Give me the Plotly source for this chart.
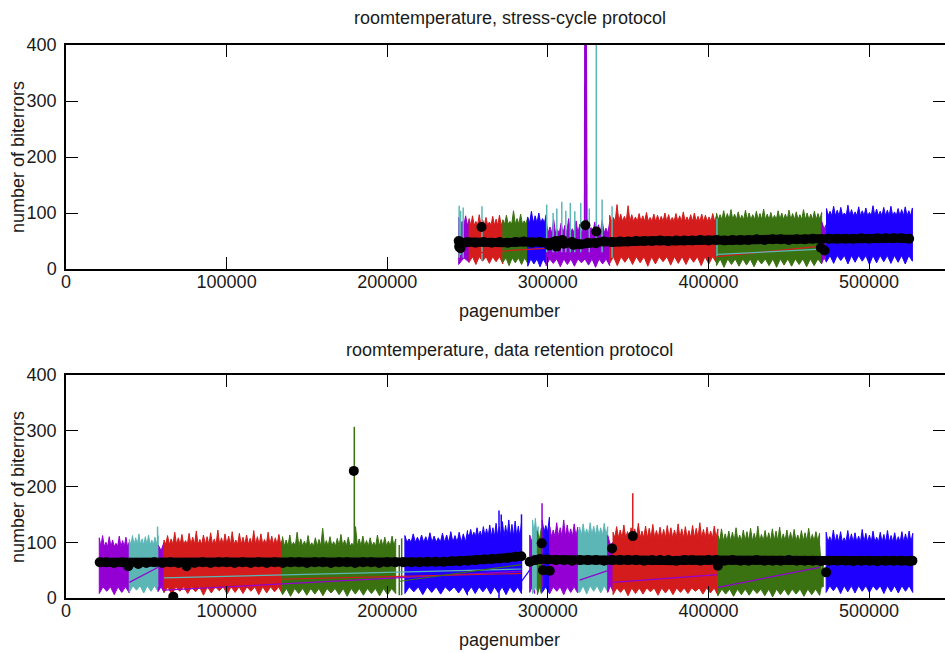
import plotly.graph_objects as go

# ---------------- data: stress-cycle protocol (top) ----------------
# colored blocks: upper spike tips (hi), lower spike tips (lo), solid upper / lower level of the block
sc_purple1_hi = [92, 85, 95, 88]
sc_purple1_lo = [8, 12]
sc_red1_hi = [90, 95, 85, 97, 88, 92, 84, 94, 89, 96, 86]
sc_red1_lo = [12, 8, 14, 10, 13, 9]
sc_green1_hi = [88, 96, 85, 104, 90, 98, 86, 93]
sc_green1_lo = [12, 6, 11, 8, 10]
sc_blue1_hi = [92, 103, 95, 100, 90, 97]
sc_blue1_lo = [5, 9, 4, 8]
sc_purple2_hi = [85, 75, 88, 70, 82, 78, 90, 72, 86, 80, 76, 88, 74, 84, 79, 87, 73, 83]
sc_purple2_lo = [6, 10, 4, 8, 5, 11, 7, 3, 9, 6]
sc_red2_hi = [96, 92, 115, 98, 94, 113, 97, 93, 99, 95, 101, 92, 98, 96, 94, 100, 97, 92,
              99, 95, 102, 93, 97, 100, 94, 98, 96, 93, 99, 95]
sc_red2_lo = [10, 6, 12, 8, 11, 5, 9, 13, 7, 10, 8, 12, 6, 9, 11]
sc_green2_hi = [100, 97, 104, 99, 106, 98, 102, 96, 105, 100, 97, 103, 99, 107, 98, 101, 96,
                104, 100, 98, 105, 99, 102, 97, 106, 100, 98, 103, 99, 101]
sc_green2_lo = [6, 3, 8, 5, 7, 4, 9, 6, 3, 7, 5, 8, 4, 6, 9]
sc_purple3_hi = [85, 80]
sc_purple3_lo = [10, 12]
sc_blue2_hi = [108, 103, 112, 105, 110, 100, 114, 106, 102, 111, 104, 109, 101, 113, 107, 103,
               110, 105, 112, 102, 108, 106, 111, 104, 109]
sc_blue2_lo = [13, 10, 15, 9, 12, 14, 8, 11, 13, 10, 12, 9, 14]

# (color, first page, last page, hi tips, lo tips, solid top, solid bottom)
sc_blocks = [
    ("purple", 244500, 251000, sc_purple1_hi, sc_purple1_lo, 78, 20),
    ("red", 251000, 272000, sc_red1_hi, sc_red1_lo, 78, 22),
    ("green", 272000, 287500, sc_green1_hi, sc_green1_lo, 80, 20),
    ("blue", 287500, 299000, sc_blue1_hi, sc_blue1_lo, 82, 18),
    ("purple", 299000, 338500, sc_purple2_hi, sc_purple2_lo, 64, 18),
    ("red", 338500, 405000, sc_red2_hi, sc_red2_lo, 85, 22),
    ("green", 405000, 470500, sc_green2_hi, sc_green2_lo, 88, 18),
    ("purple", 470500, 473500, sc_purple3_hi, sc_purple3_lo, 72, 20),
    ("blue", 473500, 527000, sc_blue2_hi, sc_blue2_lo, 95, 24),
]

# single spikes: page, top value, base value
sc_spike_teal_page = [244800, 245700, 247300, 259000, 299300, 303300, 305600, 308700, 311200,
                      314000, 316800, 320500, 325800, 330200, 333800, 340000, 405300]
sc_spike_teal_top = [113, 104, 110, 112, 115, 100, 108, 120, 104, 118, 103, 118, 108, 720, 124, 112, 90]
sc_spike_teal_base = [20, 25, 20, 15, 30, 30, 30, 30, 30, 30, 30, 30, 30, 40, 30, 20, 22]
sc_spike_purple_page = [323400]
sc_spike_purple_top = [720]
sc_spike_purple_base = [40]

# thin connecting lines
sc_link_color = ["red", "red", "teal"]
sc_link_page0 = [251000, 405000, 405500]
sc_link_val0 = [28, 22, 26]
sc_link_page1 = [298000, 467000, 467000]
sc_link_val1 = [37, 40, 35]

# black mean points
sc_mean_page = [244500, 247000, 250000, 255000, 260000, 265000, 270000, 275000, 280000, 285000,
                290000, 295000, 300000, 305000, 310000, 315000, 320000, 325000, 330000, 335000,
                340000, 345000, 350000, 355000, 360000, 365000, 370000, 375000, 380000, 385000,
                390000, 395000, 400000, 405000, 410000, 415000, 420000, 425000, 430000, 435000,
                440000, 445000, 450000, 455000, 460000, 465000, 470000, 475000, 480000, 485000,
                490000, 495000, 500000, 505000, 510000, 515000, 520000, 525000]
sc_mean_val = [50, 47, 48, 47, 48, 47, 48, 47, 48, 49, 47, 48, 46, 50, 45, 48, 44, 47, 46, 49,
               48, 49, 49, 50, 50, 50, 51, 50, 51, 51, 51, 52, 51, 52, 51, 52, 52, 52, 53, 52,
               53, 53, 52, 53, 53, 54, 53, 54, 54, 54, 54, 55, 54, 55, 55, 55, 55, 54]
sc_extra_page = [244800, 245600, 246500, 258700, 301000, 305500, 309000, 316000, 323400, 330200, 470000, 472300]
sc_extra_val = [40, 37, 44, 75, 42, 40, 52, 43, 78, 67, 38, 33]

# ---------------- data: data retention protocol (bottom) ----------------
dr_purple1_hi = [108, 112, 100, 110, 104, 98, 111, 103, 109, 100]
dr_purple1_lo = [8, 12, 6, 10, 9]
dr_teal1_hi = [105, 112, 108, 115, 106, 110, 113, 104, 109, 112]
dr_teal1_lo = [10, 14, 9, 12, 11]
dr_purple2_hi = [95, 100]
dr_purple2_lo = [12, 10]
dr_red1_hi = [104, 112, 106, 118, 108, 114, 103, 116, 109, 120, 105, 113, 110, 117, 106, 122, 108,
              115, 111, 119, 104, 116, 109, 113, 107, 121, 110, 115, 105, 118, 111, 108, 114, 106]
dr_red1_lo = [10, 6, 12, 8, 11, 5, 9, 13, 7, 10, 8, 12, 6, 9, 11, 7]
dr_green1_hi = [110, 104, 113, 100, 118, 106, 102, 112, 99, 108, 105, 125, 103, 110, 101, 107, 114,
                104, 109, 98, 128, 106, 111, 103, 108, 100, 113, 105, 109, 102, 111, 106]
dr_green1_lo = [6, 3, 8, 5, 7, 4, 9, 6, 3, 7, 5, 8, 4, 6, 8]
dr_blue1a_hi = [112, 106, 115, 109, 113, 110, 117, 111, 108, 116, 113, 119, 112, 118, 115, 121]
dr_blue1a_lo = [8, 11, 6, 10, 7, 12, 9, 5]
dr_blue1b_hi = [116, 123, 118, 126, 120, 128, 124, 131, 126, 134, 128, 137, 130, 140, 132, 138, 129, 135]
dr_blue1b_lo = [10, 8, 11, 7, 9, 6, 10, 8]
dr_purple3_hi = [113, 105]
dr_purple3_lo = [10, 8]
dr_teal2_hi = [140, 143, 128]
dr_teal2_lo = [8, 10]
dr_green2_hi = [120, 125]
dr_green2_lo = [6, 8]
dr_blue2_hi = [140, 130, 145]
dr_blue2_lo = [10, 8]
dr_purple4_hi = [128, 122, 135, 126, 140, 131, 124, 133, 127]
dr_purple4_lo = [8, 12, 6, 10, 9]
dr_teal3_hi = [127, 133, 124, 135, 129, 131, 126, 134, 128]
dr_teal3_lo = [10, 7, 12, 9, 11]
dr_purple5_hi = [112, 100]
dr_purple5_lo = [10, 12]
dr_red2_hi = [118, 128, 122, 131, 119, 126, 124, 134, 120, 129, 125, 132, 121, 127, 123, 130, 126,
              122, 133, 124, 128, 121, 130, 125, 135, 123, 127, 120, 129, 124]
dr_red2_lo = [6, 10, 4, 8, 7, 11, 5, 9, 6, 10, 8, 12, 7, 9, 5]
dr_green2b_hi = [112, 124, 115, 120, 118, 126, 113, 122, 119, 125, 116, 129, 114, 121, 117, 124,
                 120, 127, 115, 122, 118, 123, 113, 121, 117, 125, 114, 119, 116]
dr_green2b_lo = [4, 7, 3, 6, 5, 8, 4, 2, 6, 5, 7, 3, 6, 5]
dr_green3_hi = [95, 60]
dr_green3_lo = [5, 20]
dr_blue3_hi = [118, 110, 122, 114, 119, 108, 121, 115, 117, 111, 123, 116, 113, 120, 109, 118, 114,
               121, 112, 117, 110, 119, 115, 120, 116]
dr_blue3_lo = [10, 13, 8, 11, 9, 12, 10, 14, 8, 11, 9, 12, 10]

dr_blocks = [
    ("purple", 20700, 39400, dr_purple1_hi, dr_purple1_lo, 92, 20),
    ("teal", 39400, 57400, dr_teal1_hi, dr_teal1_lo, 95, 22),
    ("purple", 57400, 61000, dr_purple2_hi, dr_purple2_lo, 85, 20),
    ("red", 61000, 134800, dr_red1_hi, dr_red1_lo, 96, 20),
    ("green", 134800, 205300, dr_green1_hi, dr_green1_lo, 93, 17),
    ("blue", 211000, 250000, dr_blue1a_hi, dr_blue1a_lo, 100, 20),
    ("blue", 250000, 283600, dr_blue1b_hi, dr_blue1b_lo, 110, 20),
    ("purple", 288700, 291800, dr_purple3_hi, dr_purple3_lo, 100, 20),
    ("teal", 290500, 294000, dr_teal2_hi, dr_teal2_lo, 115, 20),
    ("green", 293500, 296000, dr_green2_hi, dr_green2_lo, 105, 20),
    ("blue", 296500, 301000, dr_blue2_hi, dr_blue2_lo, 118, 20),
    ("purple", 301200, 318600, dr_purple4_hi, dr_purple4_lo, 110, 20),
    ("teal", 319800, 337300, dr_teal3_hi, dr_teal3_lo, 112, 22),
    ("purple", 337300, 340600, dr_purple5_hi, dr_purple5_lo, 95, 22),
    ("red", 340600, 405900, dr_red2_hi, dr_red2_lo, 108, 18),
    ("green", 405900, 469200, dr_green2b_hi, dr_green2b_lo, 102, 16),
    ("green", 469200, 471500, dr_green3_hi, dr_green3_lo, 50, 20),
    ("blue", 473300, 527200, dr_blue3_hi, dr_blue3_lo, 100, 22),
]

dr_spike_color = ["green", "green", "green", "blue", "blue", "blue", "purple", "teal", "teal", "red"]
dr_spike_page = [179500, 207500, 209000, 269600, 271000, 283600, 296400, 57000, 319200, 352900]
dr_spike_top = [307, 95, 107, 157, 150, 150, 170, 128, 122, 188]
dr_spike_base = [60, 5, 5, 0, 20, 15, 20, 20, 10, 60]

dr_link_color = ["purple", "purple", "teal", "red", "green", "blue", "purple", "purple", "purple"]
dr_link_page0 = [39400, 61000, 61000, 134800, 208000, 283600, 319800, 340600, 405900]
dr_link_val0 = [28, 14, 36, 34, 30, 30, 32, 28, 19]
dr_link_page1 = [57400, 283600, 283600, 283600, 283600, 288700, 337300, 405900, 469200]
dr_link_val1 = [55, 48, 52, 44, 60, 50, 49, 42, 55]

dr_mean_a_page = [21000, 25000, 30000, 35000, 40000, 45000, 50000, 55000, 60000, 65000, 70000,
                  75000, 80000, 85000, 90000, 95000, 100000, 105000, 110000, 115000, 120000, 125000,
                  130000, 135000, 140000, 145000, 150000, 155000, 160000, 165000, 170000, 175000,
                  180000, 185000, 190000, 195000, 200000, 205000, 210000, 215000, 220000, 225000,
                  230000, 235000, 240000, 245000, 250000, 255000, 260000, 265000, 270000, 275000,
                  280000, 283500]
dr_mean_a_val = [64, 64, 63, 64, 63, 61, 63, 64, 63, 64, 63, 62, 63, 64, 63, 64, 64, 63, 64, 63,
                 64, 63, 64, 63, 64, 64, 63, 64, 64, 63, 64, 64, 63, 64, 64, 63, 64, 64, 64, 64,
                 64, 65, 65, 65, 66, 66, 67, 68, 69, 70, 71, 72, 74, 75]
dr_mean_b_page = [288700, 292000, 295000, 300000, 305000, 310000, 315000, 320000, 325000, 330000,
                  335000, 340000, 345000, 350000, 355000, 360000, 365000, 370000, 375000, 380000,
                  385000, 390000, 395000, 400000, 405000, 410000, 415000, 420000, 425000, 430000,
                  435000, 440000, 445000, 450000, 455000, 460000, 465000, 470000, 475000, 480000,
                  485000, 490000, 495000, 500000, 505000, 510000, 515000, 520000, 525000, 527000]
dr_mean_b_val = [65, 68, 70, 69, 68, 68, 67, 68, 68, 68, 67, 68, 68, 68, 68, 67, 68, 68, 68, 67,
                 68, 68, 67, 68, 68, 67, 68, 67, 67, 68, 67, 67, 67, 68, 67, 67, 67, 66, 67, 67,
                 67, 66, 67, 67, 66, 67, 67, 67, 66, 67]
dr_extra_page = [38800, 66800, 75100, 179200, 296200, 297000, 301200, 340000, 352900, 405900, 473300]
dr_extra_val = [57, 2.4, 57, 228, 98, 50, 49, 89, 111, 58, 46]

x_ticks = [0, 100000, 200000, 300000, 400000, 500000]
y_ticks = [0, 100, 200, 300, 400]
titles = ["roomtemperature, stress-cycle protocol", "roomtemperature, data retention protocol"]
x_label = "pagenumber"
y_label = "number of biterrors"

# ---------------- styles ----------------
COLORS = {"purple": "#9400D3", "teal": "#5DB6B6", "red": "#D41C1C",
          "green": "#3A7212", "blue": "#1E00FF"}
FONT = "Liberation Sans"
TXT = "#1a1a1a"

fig = go.Figure()


def spread(a, b, n):
    if n == 1:
        return [a]
    return [a + (b - a) * i / (n - 1) for i in range(n)]


def comb(tips, solid):
    # spike tips separated by the block's solid level
    out = []
    for i, t in enumerate(tips):
        if i:
            out.append(solid)
        out.append(t)
    return out


def add_blocks(blocks, xa, ya):
    for color, p0, p1, hi, lo, top, bot in blocks:
        yt = comb(hi, top)
        yb = comb(lo, bot)
        xt = spread(p0, p1, len(yt))
        xb = spread(p0, p1, len(yb))
        fig.add_trace(go.Scatter(
            x=xt + xb[::-1] + [xt[0]], y=yt + yb[::-1] + [yt[0]], mode="lines",
            fill="toself", fillcolor=COLORS[color],
            line=dict(color=COLORS[color], width=1), xaxis=xa, yaxis=ya,
            hoverinfo="skip", showlegend=False))


def add_segments(colors, p0s, v0s, p1s, v1s, xa, ya, width):
    for c, p0, v0, p1, v1 in zip(colors, p0s, v0s, p1s, v1s):
        fig.add_trace(go.Scatter(x=[p0, p1], y=[v0, v1], mode="lines",
                                 line=dict(color=COLORS[c], width=width),
                                 xaxis=xa, yaxis=ya, hoverinfo="skip", showlegend=False))


def add_mean(pages, vals, xa, ya):
    fig.add_trace(go.Scatter(x=pages, y=vals, mode="lines+markers",
                             line=dict(color="black", width=9),
                             marker=dict(color="black", size=10),
                             xaxis=xa, yaxis=ya, hoverinfo="skip", showlegend=False))


def add_dots(pages, vals, xa, ya):
    fig.add_trace(go.Scatter(x=pages, y=vals, mode="markers",
                             marker=dict(color="black", size=10),
                             xaxis=xa, yaxis=ya, hoverinfo="skip", showlegend=False))


# top panel
add_blocks(sc_blocks, "x", "y")
add_segments(["teal"] * len(sc_spike_teal_page), sc_spike_teal_page, sc_spike_teal_base,
             sc_spike_teal_page, sc_spike_teal_top, "x", "y", 1.5)
add_segments(["purple"], [323000], sc_spike_purple_base, sc_spike_purple_page, sc_spike_purple_top, "x", "y", 2)
add_segments(["purple"], sc_spike_purple_page, sc_spike_purple_top, [324200], sc_spike_purple_base, "x", "y", 2)
add_segments(sc_link_color, sc_link_page0, sc_link_val0, sc_link_page1, sc_link_val1, "x", "y", 1.2)
add_mean(sc_mean_page, sc_mean_val, "x", "y")
add_dots(sc_extra_page, sc_extra_val, "x", "y")

# bottom panel
add_blocks(dr_blocks, "x2", "y2")
add_segments(dr_spike_color, dr_spike_page, dr_spike_base, dr_spike_page, dr_spike_top, "x2", "y2", 1.5)
add_segments(dr_link_color, dr_link_page0, dr_link_val0, dr_link_page1, dr_link_val1, "x2", "y2", 1.2)
add_mean(dr_mean_a_page, dr_mean_a_val, "x2", "y2")
add_mean(dr_mean_b_page, dr_mean_b_val, "x2", "y2")
add_dots(dr_extra_page, dr_extra_val, "x2", "y2")

W, H = 945, 653
L = 66
XMAX = 547300
top_dom = [1 - 269 / H, 1 - 45 / H]
bot_dom = [1 - 598 / H, 1 - 375 / H]

axis_common = dict(showgrid=False, zeroline=False, showline=True, linecolor="black",
                   linewidth=1.5, ticks="inside", ticklen=12, tickwidth=1.2, tickcolor="black",
                   mirror="allticks", automargin=False,
                   tickfont=dict(family=FONT, size=18, color=TXT))

fig.update_layout(
    width=W, height=H, margin=dict(l=L, r=0, t=0, b=0, autoexpand=False),
    paper_bgcolor="white", plot_bgcolor="white", showlegend=False,
    xaxis=dict(domain=[0, 1], range=[0, XMAX], tickvals=x_ticks,
               ticktext=[str(v) for v in x_ticks], anchor="y", ticklabelstandoff=-4, **axis_common),
    yaxis=dict(domain=top_dom, range=[0, 400], tickvals=y_ticks, anchor="x",
               ticklabelstandoff=4, **axis_common),
    xaxis2=dict(domain=[0, 1], range=[0, XMAX], tickvals=x_ticks,
                ticktext=[str(v) for v in x_ticks], anchor="y2", ticklabelstandoff=-4, **axis_common),
    yaxis2=dict(domain=bot_dom, range=[0, 400], tickvals=y_ticks, anchor="x2",
                ticklabelstandoff=4, **axis_common),
)

ann_font = dict(family=FONT, size=18, color=TXT)
ann = []
for t, yc in zip(titles, [18, 350]):
    ann.append(dict(text=t, x=(510 - L) / (W - L), y=1 - yc / H, xref="paper", yref="paper",
                    showarrow=False, xanchor="center", yanchor="middle", font=ann_font))
for yc in [311, 640]:
    ann.append(dict(text=x_label, x=(510 - L) / (W - L), y=1 - yc / H, xref="paper", yref="paper",
                    showarrow=False, xanchor="center", yanchor="middle", font=ann_font))
for yc in [157, 487]:
    ann.append(dict(text=y_label, x=(18 - L) / (W - L), y=1 - yc / H, xref="paper", yref="paper",
                    showarrow=False, xanchor="center", yanchor="middle", textangle=-90, font=ann_font))
fig.update_layout(annotations=ann)

fig.write_html("out.html")
